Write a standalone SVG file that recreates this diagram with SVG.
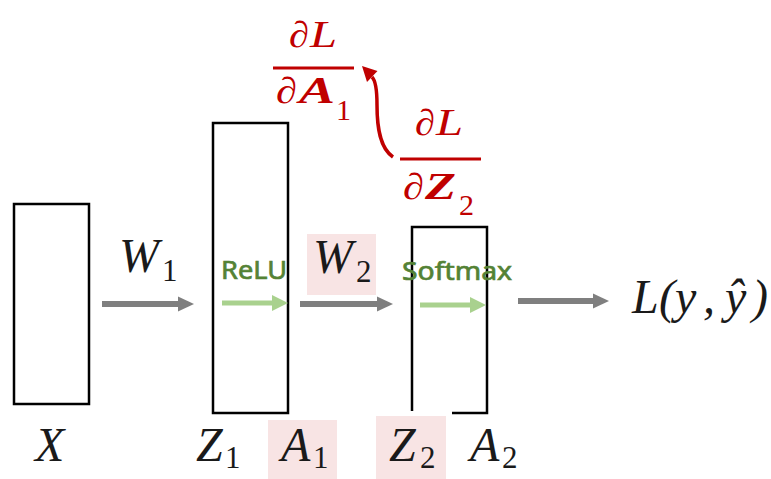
<svg xmlns="http://www.w3.org/2000/svg" width="771" height="479" viewBox="0 0 771 479">
<style>
.box{fill:none;stroke:#000;stroke-width:2.5}
.m{font-family:"Liberation Serif","DejaVu Serif",serif;font-style:italic;font-size:48px;fill:#1a1a1a}
.sub{font-family:"Liberation Serif","DejaVu Serif",serif;font-size:31px;fill:#1a1a1a}
.fr{font-family:"Liberation Serif","DejaVu Serif",serif;font-style:italic;font-size:37px;fill:#c00000}
.frb{font-weight:bold}
.frs{font-family:"Liberation Serif","DejaVu Serif",serif;font-size:30px;fill:#c00000}
.act{font-family:"Noto Sans","Liberation Sans",sans-serif;font-size:26px;fill:#548235;stroke:#548235;stroke-width:0.7}
.hl{fill:#f8e4e4}
.ga{stroke:#7f7f7f;stroke-width:6;fill:none}
.gh{fill:#7f7f7f}
.na{stroke:#a9d18e;stroke-width:5;fill:none}
.nh{fill:#a9d18e}
.fl{stroke:#c00000;stroke-width:3}
</style>
<rect width="771" height="479" fill="#fff"/>
<g id="highlights">
<rect class="hl" x="307" y="234" width="69" height="61"/>
<rect class="hl" x="268" y="420" width="69" height="59"/>
<rect class="hl" x="376" y="416" width="70" height="63"/>
</g>
<g id="node-X">
<rect class="box" x="14" y="204" width="75" height="200"/>
<text class="m" x="35" y="461">X</text>
</g>
<g id="node-Z1">
<rect class="box" x="213" y="123" width="75" height="290"/>
<text class="m" x="196" y="461">Z</text><text class="sub" x="225" y="468">1</text>
<text class="m" x="281" y="461">A</text><text class="sub" x="313" y="468">1</text>
</g>
<g id="node-Z2">
<path class="box" d="M412,411 V227 H487 V413 H452"/>
<text class="m" x="389" y="461">Z</text><text class="sub" x="420" y="468">2</text>
<text class="m" x="470" y="461">A</text><text class="sub" x="502" y="468">2</text>
</g>
<g id="node-loss">
<text class="m" x="632" y="313" font-size="46">L</text>
<text class="m" x="659" y="313" font-size="48" font-style="normal">(</text>
<text class="m" x="675" y="313" font-size="46">y</text>
<text class="m" x="703" y="313" font-size="46" font-style="normal">,</text>
<text class="m" x="725" y="313" font-size="46">ŷ</text>
<text class="m" x="752" y="313" font-size="48" font-style="normal">)</text>
</g>
<g id="grad-A1">
<text class="fr" x="289" y="47" textLength="20" lengthAdjust="spacingAndGlyphs">∂</text><text class="fr" x="310" y="47" textLength="27" lengthAdjust="spacingAndGlyphs">L</text>
<line class="fl" x1="273" y1="68" x2="354" y2="68"/>
<text class="fr" x="276" y="103" textLength="21" lengthAdjust="spacingAndGlyphs">∂</text><text class="fr frb" x="299" y="103" textLength="36" lengthAdjust="spacingAndGlyphs">A</text><text class="frs" x="336" y="120">1</text>
</g>
<g id="grad-Z2">
<text class="fr" x="415" y="135" textLength="20" lengthAdjust="spacingAndGlyphs">∂</text><text class="fr" x="436" y="135" textLength="27" lengthAdjust="spacingAndGlyphs">L</text>
<line class="fl" x1="400" y1="159" x2="481" y2="159"/>
<text class="fr" x="403" y="199" textLength="21" lengthAdjust="spacingAndGlyphs">∂</text><text class="fr frb" x="425" y="199" textLength="31" lengthAdjust="spacingAndGlyphs">Z</text><text class="frs" x="459" y="215">2</text>
</g>
<g id="labels">
<text class="m" x="119" y="272">W</text><text class="sub" x="162" y="281">1</text>
<text class="m" x="313" y="273">W</text><text class="sub" x="356" y="282">2</text>
<text class="act" x="221" y="279" textLength="66" lengthAdjust="spacingAndGlyphs">ReLU</text>
<text class="act" x="402" y="280" textLength="110" lengthAdjust="spacingAndGlyphs">Softmax</text>
</g>
<g id="connectors">
<line class="ga" x1="102" y1="304" x2="179" y2="304"/><polygon class="gh" points="178,296.5 194,304 178,311.5"/>
<line class="ga" x1="300" y1="304" x2="378" y2="304"/><polygon class="gh" points="377,296.5 393,304 377,311.5"/>
<line class="ga" x1="518" y1="301" x2="594" y2="301"/><polygon class="gh" points="593,293.5 609,301 593,308.5"/>
<line class="na" x1="222" y1="303" x2="273" y2="303"/><polygon class="nh" points="272,295 288,303 272,311"/>
<line class="na" x1="420" y1="305" x2="471" y2="305"/><polygon class="nh" points="470,297 486,305 470,313"/>
<path d="M393,157 C380,148 377,128 377,105 C377,92 376,81 372,77" fill="none" stroke="#c00000" stroke-width="3.5"/>
<polygon points="362,66 377.5,71 367,82" fill="#c00000"/>
</g>
</svg>
